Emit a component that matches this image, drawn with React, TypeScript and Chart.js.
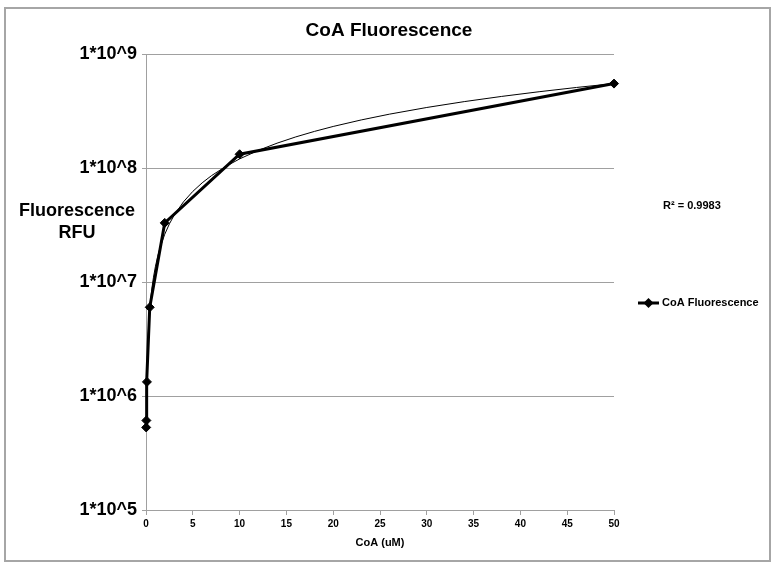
import React, { useEffect, useRef } from "react";
import { Chart, registerables } from "chart.js";

Chart.register(...registerables);

const chartTitle = "CoA Fluorescence";
const seriesName = "CoA Fluorescence";
const xAxisTitle = "CoA (uM)";
const yAxisTitleLines = ["Fluorescence", "RFU"];
const rSquaredLabel = "R² = 0.9983";

const concentrations = [0.02, 0.04, 0.1, 0.4, 2, 10, 50];
const fluorescence = [5.3e5, 6.1e5, 1.33e6, 6.0e6, 3.3e7, 1.32e8, 5.5e8];

const yTickValues = [1e5, 1e6, 1e7, 1e8, 1e9];
const yTickLabels = ["1*10^5", "1*10^6", "1*10^7", "1*10^8", "1*10^9"];
const xTickValues = [0, 5, 10, 15, 20, 25, 30, 35, 40, 45, 50];

// power trendline y = a * x^b
const trendCoefficient = 1.36e7;
const trendExponent = 0.946;
const trendSampleX = [
  0.05, 0.1, 0.15, 0.2, 0.3, 0.4, 0.5, 0.65, 0.8, 1, 1.25, 1.5, 2, 2.5, 3, 4, 5, 6, 7, 8.5, 10,
  12, 14, 16, 18, 20, 23, 26, 30, 34, 38, 42, 46, 50,
];

const FONT = "'Liberation Sans', Arial, Helvetica, sans-serif";

export default function App() {
  const canvasRef = useRef<HTMLCanvasElement | null>(null);

  useEffect(() => {
    const canvas = canvasRef.current;
    if (!canvas) return;

    const decorations = {
      id: "decorations",
      beforeDraw(chart: any) {
        const ctx = chart.ctx;
        ctx.save();
        ctx.fillStyle = "#ffffff";
        ctx.fillRect(0, 0, chart.width, chart.height);
        ctx.strokeStyle = "#a6a6a6";
        ctx.lineWidth = 2;
        ctx.strokeRect(5, 8, 765, 553);
        ctx.restore();
      },
      afterDraw(chart: any) {
        const ctx = chart.ctx;
        const area = chart.chartArea;
        ctx.save();
        ctx.fillStyle = "#000000";
        ctx.textBaseline = "middle";

        ctx.textAlign = "center";
        ctx.font = `bold 19px ${FONT}`;
        ctx.fillText(chartTitle, 389, 31);

        ctx.font = `bold 18px ${FONT}`;
        yAxisTitleLines.forEach((line, i) => ctx.fillText(line, 77, 211 + i * 22));

        ctx.font = `bold 11px ${FONT}`;
        ctx.fillText(xAxisTitle, (area.left + area.right) / 2, 543);

        ctx.textAlign = "left";
        ctx.fillText(rSquaredLabel, 663, 206);

        // legend
        ctx.strokeStyle = "#000000";
        ctx.lineWidth = 3;
        ctx.beginPath();
        ctx.moveTo(638, 303);
        ctx.lineTo(659, 303);
        ctx.stroke();
        ctx.beginPath();
        ctx.moveTo(648.5, 298);
        ctx.lineTo(653.5, 303);
        ctx.lineTo(648.5, 308);
        ctx.lineTo(643.5, 303);
        ctx.closePath();
        ctx.fill();
        ctx.fillText(seriesName, 662, 303);
        ctx.restore();
      },
    };

    const chart = new Chart(canvas, {
      type: "scatter",
      data: {
        datasets: [
          {
            label: "trend",
            data: trendSampleX.map((x) => ({ x, y: trendCoefficient * Math.pow(x, trendExponent) })),
            showLine: true,
            borderColor: "#000000",
            borderWidth: 1,
            pointRadius: 0,
            fill: false,
          },
          {
            label: seriesName,
            data: concentrations.map((x, i) => ({ x, y: fluorescence[i] })),
            showLine: true,
            clip: false,
            borderColor: "#000000",
            backgroundColor: "#000000",
            borderWidth: 3,
            pointStyle: "rectRot",
            pointRadius: 4.5,
            pointBorderWidth: 1,
            pointBackgroundColor: "#000000",
            pointBorderColor: "#000000",
            fill: false,
          },
        ],
      },
      options: {
        animation: false,
        responsive: false,
        devicePixelRatio: 1,
        layout: { padding: { left: 0, right: 164, top: 54, bottom: 0 } },
        plugins: {
          legend: { display: false },
          title: { display: false },
          tooltip: { enabled: false },
        },
        scales: {
          x: {
            type: "linear",
            min: 0,
            max: 50,
            afterBuildTicks: (scale: any) => {
              scale.ticks = xTickValues.map((v) => ({ value: v }));
            },
            afterFit: (scale: any) => {
              scale.height = 57;
            },
            grid: {
              drawOnChartArea: false,
              drawTicks: true,
              tickLength: 5,
              color: "#a0a0a0",
            },
            border: { display: true, color: "#a0a0a0", width: 1 },
            ticks: {
              color: "#000000",
              font: { family: FONT, size: 10, weight: "bold" },
              padding: 3,
              maxRotation: 0,
              autoSkip: false,
            },
          },
          y: {
            type: "logarithmic",
            min: 1e5,
            max: 1e9,
            afterBuildTicks: (scale: any) => {
              scale.ticks = yTickValues.map((v) => ({ value: v }));
            },
            afterFit: (scale: any) => {
              scale.width = 146;
            },
            grid: {
              drawOnChartArea: true,
              drawTicks: true,
              tickLength: 4,
              color: "#a0a0a0",
            },
            border: { display: true, color: "#a0a0a0", width: 1 },
            ticks: {
              color: "#000000",
              font: { family: FONT, size: 18, weight: "bold" },
              padding: 5,
              autoSkip: false,
              callback: (value: any) => {
                const idx = yTickValues.indexOf(Number(value));
                return idx >= 0 ? yTickLabels[idx] : "";
              },
            },
          },
        },
      },
      plugins: [decorations],
    });

    return () => chart.destroy();
  }, []);

  return (
    <div style={{ position: "fixed", left: 0, top: 0, width: 778, height: 567, background: "#fff" }}>
      <canvas ref={canvasRef} width={778} height={567} style={{ display: "block", width: 778, height: 567 }} />
    </div>
  );
}
